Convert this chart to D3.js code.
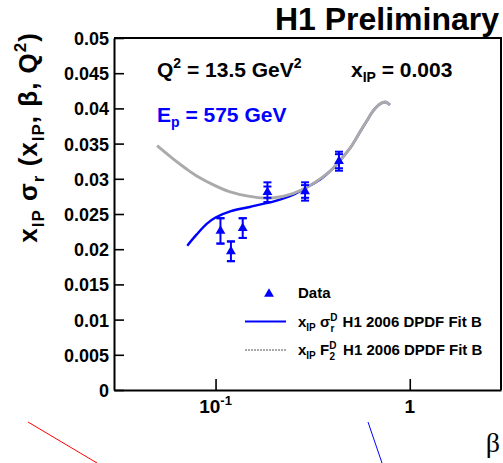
<!DOCTYPE html>
<html><head><meta charset="utf-8">
<script src="https://cdn.jsdelivr.net/npm/d3@7"></script>
<style>
body{margin:0;background:#fff}
text{font-family:"Liberation Sans",Arial,Helvetica,sans-serif;font-weight:bold;fill:#000}
</style>
</head><body>
<svg id="c" width="503" height="463" xmlns="http://www.w3.org/2000/svg"></svg>
<script>
// ---------- data ----------
const dataBeta   = [0.106, 0.120, 0.138, 0.185, 0.289, 0.432];
const dataSigma  = [0.0226, 0.0197, 0.0230, 0.0281, 0.0282, 0.0325];
const dataStat   = [0.0018, 0.0014, 0.0014, 0.0008, 0.0009, 0.0010];
const dataTotal  = [0.0018, 0.0014, 0.0014, 0.0014, 0.0013, 0.00135];

const fitBeta    = [0.0715, 0.08, 0.09, 0.1, 0.12, 0.15, 0.18, 0.2, 0.25, 0.3, 0.35, 0.4, 0.45, 0.5, 0.55, 0.6, 0.65, 0.7, 0.75, 0.79];
const fitSigmaR  = [0.0205, 0.0221, 0.0236, 0.0245, 0.0254, 0.0260, 0.0265, 0.0268, 0.0277, 0.0289, 0.0300, 0.0314, 0.0330, 0.0346, 0.0365, 0.0382, 0.0397, 0.0406, 0.0409, 0.0405];
const f2Beta     = [0.05, 0.06, 0.07, 0.08, 0.1, 0.12, 0.15, 0.18, 0.2, 0.25, 0.3, 0.35, 0.4, 0.45, 0.5, 0.55, 0.6, 0.65, 0.7, 0.75, 0.79];
const fitF2      = [0.0347, 0.0329, 0.0315, 0.0304, 0.0290, 0.0281, 0.0275, 0.02725, 0.0273, 0.0279, 0.0289, 0.0301, 0.0314, 0.0330, 0.0346, 0.0365, 0.0382, 0.0397, 0.0406, 0.0409, 0.0405];

const yTickValues = [0, 0.005, 0.01, 0.015, 0.02, 0.025, 0.03, 0.035, 0.04, 0.045, 0.05];
const yTickLabels = ["0", "0.005", "0.01", "0.015", "0.02", "0.025", "0.03", "0.035", "0.04", "0.045", "0.05"];
const xMajorTicks = [0.1, 1];
const xMinorTicks = [0.04, 0.05, 0.06, 0.07, 0.08, 0.09, 0.2, 0.3, 0.4, 0.5, 0.6, 0.7, 0.8, 0.9, 2];

// ---------- layout ----------
const L = 114, R = 501, T = 38, B = 390;
const svg = d3.select("#c");
svg.append("rect").attr("width", 503).attr("height", 463).attr("fill", "#fff");

const x = d3.scaleLog().domain([0.03, 2.95]).range([L, R]);
const y = d3.scaleLinear().domain([0, 0.05]).range([B, T]);

// frame top/right
svg.append("path").attr("d", `M${L},${T}H${R}V${B}`).attr("fill", "none").attr("stroke", "#000").attr("stroke-width", 2);

// y axis
const gy = svg.append("g").attr("transform", `translate(${L},0)`);
gy.call(d3.axisLeft(y).tickValues(d3.range(0, 0.0505, 0.001)).tickSize(-5).tickSizeOuter(0).tickFormat(""));
gy.call(d3.axisLeft(y).tickValues(yTickValues).tickSize(-10).tickSizeOuter(0).tickPadding(5)
  .tickFormat((d, i) => yTickLabels[i]));
gy.selectAll("path.domain").attr("stroke", "#000").attr("stroke-width", 2);
gy.selectAll("line").attr("stroke", "#000").attr("stroke-width", 1.6);
gy.selectAll("text").attr("font-size", 18).attr("font-family", null).attr("fill", "#000").attr("dy", "0.36em");

// x axis
const gx = svg.append("g").attr("transform", `translate(0,${B})`);
gx.call(d3.axisBottom(x).tickValues(xMinorTicks).tickSize(-7).tickSizeOuter(0).tickFormat(""));
gx.call(d3.axisBottom(x).tickValues(xMajorTicks).tickSize(-11).tickSizeOuter(0).tickFormat(""));
gx.selectAll("path.domain").attr("stroke", "#000").attr("stroke-width", 2);
gx.selectAll("line").attr("stroke", "#000").attr("stroke-width", 1.6);

// x tick labels
const xl1 = svg.append("text").attr("x", x(0.1)).attr("y", 413).attr("text-anchor", "middle").attr("font-size", 19);
xl1.append("tspan").text("10");
xl1.append("tspan").attr("font-size", 13).attr("dy", -8).text("-1");
svg.append("text").attr("x", x(1)).attr("y", 413).attr("text-anchor", "middle").attr("font-size", 19).text("1");

// axis titles
svg.append("text").attr("x", 500).attr("y", 452).attr("text-anchor", "end")
  .style("font-family", "'Liberation Serif','Times New Roman',serif").style("font-weight", "normal").attr("font-size", 28).text("β");

const yt = svg.append("text").attr("transform", "translate(37,32) rotate(-90)").attr("text-anchor", "end")
  .attr("font-size", 26).style("letter-spacing", "1px");
yt.append("tspan").text("x");
yt.append("tspan").attr("font-size", 17).attr("dy", 7).text("IP");
yt.append("tspan").attr("dy", -7).text(" σ");
yt.append("tspan").attr("font-size", 17).attr("dy", 7).text("r");
yt.append("tspan").attr("dy", -7).text(" (x");
yt.append("tspan").attr("font-size", 17).attr("dy", 7).text("IP");
yt.append("tspan").attr("dy", -7).text(", β, Q");
yt.append("tspan").attr("font-size", 17).attr("dy", -11).text("2");
yt.append("tspan").attr("dy", 11).text(")");

// title
svg.append("text").attr("x", 499).attr("y", 30).attr("text-anchor", "end").attr("font-size", 32).text("H1 Preliminary");

// annotations
const q = svg.append("text").attr("x", 157).attr("y", 77).attr("font-size", 21);
q.append("tspan").text("Q");
q.append("tspan").attr("font-size", 14).attr("dy", -9).text("2");
q.append("tspan").attr("dy", 9).text(" = 13.5 GeV");
q.append("tspan").attr("font-size", 14).attr("dy", -9).text("2");
const xp = svg.append("text").attr("x", 351).attr("y", 77).attr("font-size", 21);
xp.append("tspan").text("x");
xp.append("tspan").attr("font-size", 14).attr("dy", 5).text("IP");
xp.append("tspan").attr("dy", -5).text(" = 0.003");
const ep = svg.append("text").attr("x", 157).attr("y", 122).attr("font-size", 21).style("fill", "#0000ff");
ep.append("tspan").text("E");
ep.append("tspan").attr("font-size", 14).attr("dy", 5).text("p");
ep.append("tspan").attr("dy", -5).text(" = 575 GeV");

// curves
const line = d3.line().curve(d3.curveCatmullRom);
svg.append("path").attr("d", line(fitBeta.map((b, i) => [x(b), y(fitSigmaR[i])])))
  .attr("fill", "none").attr("stroke", "#0000ff").attr("stroke-width", 2.4);
svg.append("path").attr("d", line(f2Beta.map((b, i) => [x(b), y(fitF2[i])])))
  .attr("fill", "none").attr("stroke", "#aaaaaa").attr("stroke-width", 2.9);

// data points
const tri = d3.symbol().type(d3.symbolTriangle).size(42);
const gd = svg.append("g").attr("stroke", "#0000ff").attr("stroke-width", 2);
dataBeta.forEach((b, i) => {
  const cx = x(b), cy = y(dataSigma[i]);
  gd.append("line").attr("x1", cx).attr("x2", cx).attr("y1", y(dataSigma[i] + dataTotal[i])).attr("y2", y(dataSigma[i] - dataTotal[i]));
  [dataSigma[i] + dataTotal[i], dataSigma[i] - dataTotal[i], dataSigma[i] + dataStat[i], dataSigma[i] - dataStat[i]].forEach(v => {
    gd.append("line").attr("x1", cx - 4).attr("x2", cx + 4).attr("y1", y(v)).attr("y2", y(v));
  });
  gd.append("path").attr("d", tri()).attr("transform", `translate(${cx},${cy})`).attr("fill", "#0000ff").attr("stroke", "none");
});

// legend
svg.append("path").attr("d", tri()).attr("transform", "translate(269,294)").attr("fill", "#0000ff");
svg.append("text").attr("x", 298).attr("y", 298).attr("font-size", 15).text("Data");
svg.append("line").attr("x1", 245).attr("x2", 286).attr("y1", 321.5).attr("y2", 321.5).attr("stroke", "#0000ff").attr("stroke-width", 2);
svg.append("line").attr("x1", 245).attr("x2", 286).attr("y1", 350).attr("y2", 350).attr("stroke", "#a9a9a9").attr("stroke-width", 2).attr("stroke-dasharray", "2,1");
function legText(yy, sym, sub) {
  const t = svg.append("text").attr("x", 298).attr("y", yy).attr("font-size", 15);
  t.append("tspan").text("x");
  t.append("tspan").attr("font-size", 10).attr("dy", 4).text("IP");
  t.append("tspan").attr("dy", -4).text(" " + sym);
  t.append("tspan").attr("font-size", 10).attr("dy", -6).text("D");
  t.append("tspan").attr("font-size", 10).attr("dx", -7).attr("dy", 11).text(sub);
  t.append("tspan").attr("dx", 4).attr("dy", -5).text(" H1 2006 DPDF Fit B");
}
legText(327, "σ", "r");
legText(355, "F", "2");

// stray lines below the frame
svg.append("line").attr("x1", 28).attr("y1", 422).attr("x2", 97).attr("y2", 463).attr("stroke", "#ff0000").attr("stroke-width", 1);
svg.append("line").attr("x1", 368).attr("y1", 422).attr("x2", 382).attr("y2", 463).attr("stroke", "#0000ff").attr("stroke-width", 1);
</script>
</body></html>
